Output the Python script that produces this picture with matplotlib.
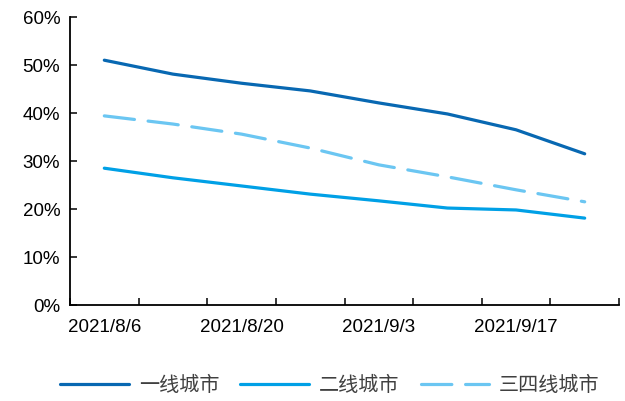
import matplotlib
matplotlib.use("Agg")
import matplotlib.pyplot as plt
from matplotlib.ticker import FixedLocator, PercentFormatter

plt.rcParams['font.family'] = ['Liberation Sans', 'Noto Sans CJK SC', 'DejaVu Sans']

# weekly dates
dates = ['2021/8/6', '2021/8/13', '2021/8/20', '2021/8/27',
         '2021/9/3', '2021/9/10', '2021/9/17', '2021/9/24']
tier1 = [51.0, 48.1, 46.2, 44.6, 42.1, 39.8, 36.5, 31.5]
tier2 = [28.5, 26.5, 24.8, 23.1, 21.7, 20.2, 19.8, 18.1]
tier34 = [39.4, 37.7, 35.6, 32.7, 29.2, 26.7, 24.0, 21.5]
names = ['一线城市', '二线城市', '三四线城市']

fig = plt.figure(figsize=(6.25, 4.01), dpi=100)
ax = fig.add_axes([70 / 625, 1 - 305 / 401, 549 / 625, 288 / 401])

x = list(range(len(dates)))
ax.plot(x, tier1, color='#0868B2', lw=2.3, label=names[0], solid_capstyle='round')
ax.plot(x, tier2, color='#00A0E6', lw=2.3, label=names[1], solid_capstyle='round')
ax.plot(x, tier34, color='#6BC6F2', lw=2.3, label=names[2], dashes=(9.5, 4.3),
        dash_capstyle='round')

ax.set_xlim(-0.5, len(dates) - 0.5)
ax.set_ylim(0, 60)
ax.yaxis.set_major_locator(FixedLocator(range(0, 61, 10)))
ax.yaxis.set_major_formatter(PercentFormatter(decimals=0))

# labels every two weeks, tick marks between categories
ax.set_xticks(x[::2])
ax.set_xticklabels(dates[::2])
ax.set_xticks([i - 0.5 for i in range(len(dates) + 1)], minor=True)
ax.tick_params(axis='x', which='major', length=0, pad=10, labelsize=13.5)
ax.tick_params(axis='x', which='minor', direction='in', length=5, width=1.1)
ax.tick_params(axis='y', direction='in', length=5, width=1.1, pad=7, labelsize=13.5)

for s in ['top', 'right']:
    ax.spines[s].set_visible(False)
for s in ['left', 'bottom']:
    ax.spines[s].set_linewidth(1.3)
    ax.spines[s].set_color('black')

leg = fig.legend(loc='center', bbox_to_anchor=(0.528, 0.038), ncol=3, frameon=False,
                 handlelength=3.4, handletextpad=0.5, columnspacing=1.05,
                 prop={'family': ['Noto Sans CJK SC'], 'size': 14.5, 'weight': 'light'})
for t in leg.get_texts():
    t.set_color('#404040')

fig.savefig('out.png', dpi=100)
